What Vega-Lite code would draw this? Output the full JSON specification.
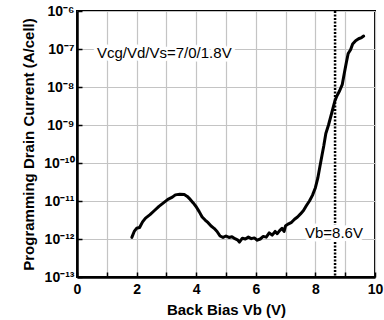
{
  "$schema": "https://vega.github.io/schema/vega-lite/v6.json",
  "width": 298,
  "height": 266,
  "autosize": {"type": "none"},
  "padding": {"left": 77, "top": 11, "right": 9, "bottom": 43},
  "background": "white",
  "config": {
    "font": "Liberation Sans",
    "view": {"stroke": "black", "strokeWidth": 2},
    "axis": {
      "labelFont": "Liberation Sans",
      "titleFont": "Liberation Sans",
      "labelColor": "black",
      "titleColor": "black",
      "labelFontSize": 14,
      "labelFontWeight": "bold",
      "titleFontSize": 15,
      "titleFontWeight": "bold",
      "domainColor": "black",
      "domainWidth": 2.5,
      "tickColor": "black",
      "tickWidth": 1.5,
      "tickSize": -5,
      "gridColor": "#c4c4c4",
      "gridWidth": 1.2
    }
  },
  "datasets": {
    "curve": [
      {"vb": 1.84, "id": 1.10e-12}, {"vb": 1.92, "id": 1.58e-12}, {"vb": 2.0, "id": 1.91e-12},
      {"vb": 2.1, "id": 2.0e-12}, {"vb": 2.2, "id": 2.82e-12}, {"vb": 2.3, "id": 3.55e-12},
      {"vb": 2.45, "id": 4.37e-12}, {"vb": 2.6, "id": 5.62e-12}, {"vb": 2.75, "id": 7.24e-12},
      {"vb": 2.9, "id": 8.91e-12}, {"vb": 3.05, "id": 1.10e-11}, {"vb": 3.2, "id": 1.26e-11},
      {"vb": 3.3, "id": 1.45e-11}, {"vb": 3.45, "id": 1.51e-11}, {"vb": 3.6, "id": 1.48e-11},
      {"vb": 3.7, "id": 1.32e-11}, {"vb": 3.8, "id": 1.10e-11}, {"vb": 3.9, "id": 8.91e-12},
      {"vb": 4.0, "id": 7.08e-12}, {"vb": 4.1, "id": 5.25e-12}, {"vb": 4.2, "id": 3.80e-12},
      {"vb": 4.3, "id": 3.16e-12}, {"vb": 4.4, "id": 2.69e-12}, {"vb": 4.5, "id": 2.19e-12},
      {"vb": 4.6, "id": 1.91e-12}, {"vb": 4.7, "id": 1.58e-12}, {"vb": 4.8, "id": 1.20e-12},
      {"vb": 4.9, "id": 1.10e-12}, {"vb": 5.0, "id": 1.20e-12}, {"vb": 5.1, "id": 1.10e-12},
      {"vb": 5.2, "id": 1.15e-12}, {"vb": 5.3, "id": 1.02e-12}, {"vb": 5.4, "id": 9.3e-13},
      {"vb": 5.45, "id": 8.3e-13}, {"vb": 5.55, "id": 1.05e-12}, {"vb": 5.65, "id": 1.0e-12},
      {"vb": 5.75, "id": 1.12e-12}, {"vb": 5.85, "id": 1.02e-12}, {"vb": 5.95, "id": 1.07e-12},
      {"vb": 6.05, "id": 9.3e-13}, {"vb": 6.15, "id": 1.0e-12}, {"vb": 6.25, "id": 1.17e-12},
      {"vb": 6.35, "id": 1.12e-12}, {"vb": 6.45, "id": 1.45e-12}, {"vb": 6.55, "id": 1.26e-12},
      {"vb": 6.65, "id": 1.58e-12}, {"vb": 6.72, "id": 1.38e-12}, {"vb": 6.8, "id": 1.66e-12},
      {"vb": 6.88, "id": 1.91e-12}, {"vb": 6.95, "id": 1.58e-12}, {"vb": 7.0, "id": 2.24e-12},
      {"vb": 7.1, "id": 2.51e-12}, {"vb": 7.2, "id": 2.75e-12}, {"vb": 7.3, "id": 3.31e-12},
      {"vb": 7.4, "id": 3.80e-12}, {"vb": 7.5, "id": 4.57e-12}, {"vb": 7.6, "id": 5.62e-12},
      {"vb": 7.7, "id": 7.59e-12}, {"vb": 7.8, "id": 1.0e-11}, {"vb": 7.9, "id": 1.41e-11},
      {"vb": 8.0, "id": 2.24e-11}, {"vb": 8.08, "id": 3.98e-11}, {"vb": 8.15, "id": 7.94e-11},
      {"vb": 8.22, "id": 1.58e-10}, {"vb": 8.28, "id": 2.8e-10}, {"vb": 8.35, "id": 6.0e-10},
      {"vb": 8.44, "id": 1.0e-9}, {"vb": 8.55, "id": 2.1e-9}, {"vb": 8.65, "id": 4.2e-9},
      {"vb": 8.72, "id": 5.8e-9}, {"vb": 8.8, "id": 7.6e-9}, {"vb": 8.9, "id": 1.15e-8},
      {"vb": 8.97, "id": 2.3e-8}, {"vb": 9.04, "id": 4.5e-8}, {"vb": 9.1, "id": 7.6e-8},
      {"vb": 9.18, "id": 9.55e-8}, {"vb": 9.25, "id": 1.35e-7}, {"vb": 9.35, "id": 1.65e-7},
      {"vb": 9.45, "id": 1.86e-7}, {"vb": 9.55, "id": 2.0e-7}, {"vb": 9.62, "id": 2.19e-7}
    ],
    "marker": [{"vb": 8.66}],
    "notes": [
      {"vb": 0.67, "id": 7.85e-8, "label": "Vcg/Vd/Vs=7/0/1.8V"},
      {"vb": 7.65, "id": 1.48e-12, "label": "Vb=8.6V"}
    ]
  },
  "encoding": {
    "x": {
      "field": "vb", "type": "quantitative",
      "scale": {"domain": [0, 10], "nice": false},
      "axis": {
        "title": "Back Bias Vb (V)",
        "values": [0, 1, 2, 3, 4, 5, 6, 7, 8, 9, 10],
        "labelExpr": "datum.value % 2 == 0 ? datum.label : ''",
        "labelPadding": 10,
        "titlePadding": 6,
        "labelFlush": false
      }
    }
  },
  "layer": [
    {
      "data": {"name": "curve"},
      "mark": {"type": "line", "color": "black", "strokeWidth": 3, "strokeJoin": "round", "strokeCap": "round"},
      "encoding": {
        "y": {
          "field": "id", "type": "quantitative",
          "scale": {"type": "log", "domain": [1e-13, 1e-6], "nice": false},
          "axis": {
            "title": "Programming Drain Current (A/cell)",
            "values": [1e-13, 1e-12, 1e-11, 1e-10, 1e-9, 1e-8, 1e-7, 1e-6],
            "labelExpr": "['10⁻⁶','10⁻⁷','10⁻⁸','10⁻⁹','10⁻¹⁰','10⁻¹¹','10⁻¹²','10⁻¹³'][round(-log(datum.value)/LN10) - 6]",
            "labelPadding": 8,
            "titlePadding": 7,
            "labelFlush": false
          }
        }
      }
    },
    {
      "data": {"name": "marker"},
      "mark": {"type": "rule", "color": "black", "strokeWidth": 2.5, "strokeDash": [2, 1.5]},
      "encoding": {}
    },
    {
      "data": {"name": "notes"},
      "mark": {"type": "text", "align": "left", "baseline": "middle", "fontSize": 15, "font": "Liberation Sans", "stroke": "white", "strokeWidth": 7, "strokeJoin": "round", "color": "white"},
      "encoding": {
        "y": {"field": "id", "type": "quantitative"},
        "text": {"field": "label"}
      }
    },
    {
      "data": {"name": "notes"},
      "mark": {"type": "text", "align": "left", "baseline": "middle", "fontSize": 15, "font": "Liberation Sans", "color": "black"},
      "encoding": {
        "y": {"field": "id", "type": "quantitative"},
        "text": {"field": "label"}
      }
    }
  ]
}
